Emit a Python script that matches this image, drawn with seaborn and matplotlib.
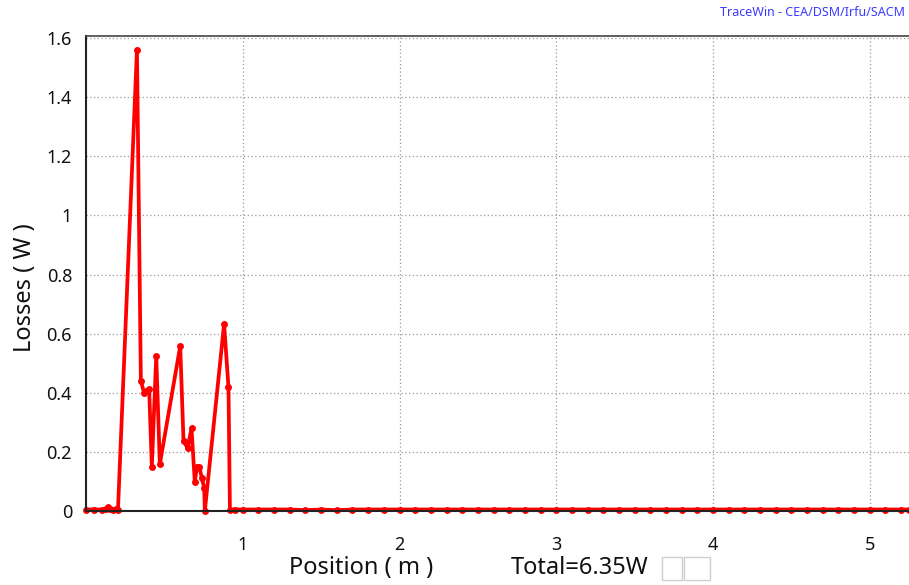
import matplotlib
matplotlib.use("Agg")
import matplotlib.pyplot as plt
from matplotlib.patches import Rectangle
from matplotlib.ticker import MultipleLocator, FuncFormatter
import numpy as np
import pandas as pd
import seaborn as sns

# Loss profile (position in m, losses in W)
peak_pos = [0.0, 0.05, 0.10, 0.125, 0.138, 0.15, 0.17, 0.19, 0.204, 0.325, 0.350,
            0.371, 0.385, 0.403, 0.420, 0.448, 0.471, 0.601,
            0.622, 0.648, 0.673, 0.694, 0.708, 0.722, 0.740, 0.754, 0.758,
            0.881, 0.909, 0.918]
peak_loss = [0.005, 0.005, 0.005, 0.006, 0.012, 0.006, 0.005, 0.008, 0.004, 1.56, 0.441,
             0.398, 0.405, 0.412, 0.150, 0.524, 0.159, 0.558,
             0.238, 0.212, 0.280, 0.099, 0.150, 0.150, 0.11, 0.077, 0.0,
             0.633, 0.418, 0.005]
base_pos = [0.95, 1.0, 1.1, 1.2, 1.3, 1.4, 1.5, 1.6, 1.7, 1.8, 1.9, 2.0, 2.1, 2.2,
            2.3, 2.4, 2.5, 2.6, 2.7, 2.8, 2.9, 3.0, 3.1, 3.2, 3.3, 3.4, 3.5, 3.6,
            3.7, 3.8, 3.9, 4.0, 4.1, 4.2, 4.3, 4.4, 4.5, 4.6, 4.7, 4.8, 4.9, 5.0,
            5.1, 5.2, 5.25]
base_loss = [0.005, 0.005, 0.005, 0.005, 0.005, 0.003, 0.005, 0.003, 0.005, 0.005,
             0.005, 0.005, 0.005, 0.005, 0.005, 0.005, 0.005, 0.005, 0.005, 0.005,
             0.005, 0.005, 0.005, 0.005, 0.005, 0.005, 0.005, 0.005, 0.005, 0.005,
             0.005, 0.005, 0.005, 0.005, 0.005, 0.005, 0.005, 0.005, 0.005, 0.005,
             0.005, 0.005, 0.005, 0.005, 0.005]
x_ticks = [1, 2, 3, 4, 5]
y_ticks = [0, 0.2, 0.4, 0.6, 0.8, 1.0, 1.2, 1.4, 1.6]
total_label = "Total=6.35W"

df = pd.DataFrame({"Position": peak_pos + base_pos, "Losses": peak_loss + base_loss})

sns.set_style("white")
plt.rcParams["font.family"] = ["Noto Sans", "DejaVu Sans"]

fig = plt.figure(figsize=(9.09, 5.85), dpi=100)
W, H = 909, 585
ax = fig.add_axes([86 / W, 1 - 511 / H, (909 - 86) / W, (511 - 36) / H])

sns.lineplot(data=df, x="Position", y="Losses", ax=ax, color="#ff0000",
             linewidth=2.7, marker="o", markersize=5, markeredgewidth=0,
             sort=False, estimator=None, clip_on=False)

ax.set_xlim(0, 5.25)
ax.set_ylim(0, 1.607)
ax.set_xticks(x_ticks)
ax.set_yticks(y_ticks)
ax.xaxis.set_minor_locator(MultipleLocator(0.2))
ax.yaxis.set_minor_locator(MultipleLocator(0.04))
ax.yaxis.set_major_formatter(FuncFormatter(lambda v, p: f"{v:g}"))
ax.tick_params(axis="both", which="major", direction="out", length=7, width=1.2,
               color="#222222", labelsize=13, labelcolor="#111111", pad=3)
ax.tick_params(axis="both", which="minor", direction="out", length=4, width=1.0,
               color="#222222")
ax.tick_params(axis="x", which="major", pad=11)
ax.grid(True, which="major", linestyle=(0, (1, 2)), color="#9a9a9a", linewidth=0.9)
ax.set_axisbelow(True)

for s in ["left", "bottom"]:
    ax.spines[s].set_color("#222222")
    ax.spines[s].set_linewidth(1.5)
ax.spines["top"].set_color("#444444")
ax.spines["top"].set_linewidth(1.2)
ax.spines["right"].set_visible(False)

ax.set_xlabel("")
ax.set_ylabel("")
fig.text(25 / W, 1 - 288 / H, "Losses ( W )", rotation=90, ha="center", va="center",
         fontsize=17, color="#111111")
fig.text(361 / W, 1 - 568 / H, "Position ( m )", ha="center", va="center",
         fontsize=17, color="#111111")
fig.text(511 / W, 1 - 568 / H, total_label, ha="left", va="center",
         fontsize=17, color="#111111")
for bx0, bw in [(662, 20), (684, 26)]:
    fig.patches.append(Rectangle((bx0 / W, 1 - 580 / H), bw / W, 23 / H,
                                 transform=fig.transFigure, fill=False,
                                 edgecolor="#cfcfcf", linewidth=1.0))
fig.text(905 / W, 1 - 13 / H, "TraceWin - CEA/DSM/Irfu/SACM", ha="right",
         va="center", fontsize=9, color="#3a3aff")

fig.savefig("out.png", dpi=100)
